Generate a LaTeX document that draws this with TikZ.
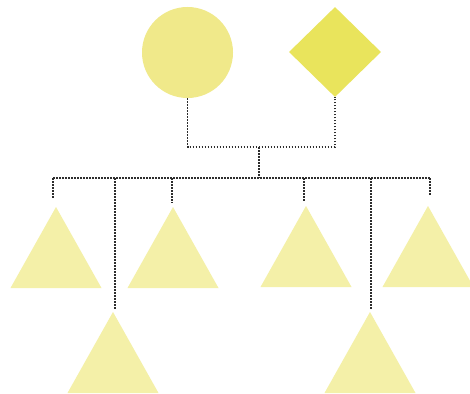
\documentclass[tikz,border=0pt]{standalone}
\usetikzlibrary{shapes.geometric}
\definecolor{roundfill}{RGB}{240,233,138}
\definecolor{kitefill}{RGB}{233,228,92}
\definecolor{leaffill}{RGB}{244,240,168}
\definecolor{dotcol}{RGB}{45,45,45}
\tikzset{
  link/.style={draw=dotcol, line width=1.8pt, dash pattern=on 1.5pt off 1.5pt},
  roundnode/.style={circle, fill=roundfill, inner sep=0pt, minimum size=91pt},
  kitenode/.style={diamond, fill=kitefill, inner sep=0pt, minimum width=92pt, minimum height=90pt},
  leaf/.style={fill=leaffill}
}
% filled triangle: apex at #2, base width 91, height 81; apex named #1
\newcommand{\leafat}[2]{%
  \coordinate (#1) at (#2);
  \fill[leaf] (#1) -- ++(-45.5,81) -- ++(91,0) -- cycle;
}
\begin{document}
\begin{tikzpicture}[x=1pt,y=-1pt]
  \useasboundingbox (0,0) rectangle (470,393);
  \clip (0,0) rectangle (470,393);
  \fill[white] (0,0) rectangle (470,393);

  % parents
  \node[roundnode] (mum) at (187.5,52.5) {};
  \node[kitenode] (dad) at (335,52) {};

  % children
  \leafat{t1}{56,207}
  \leafat{t2}{173,207}
  \leafat{t3}{306,206}
  \leafat{t4}{428,206}
  \leafat{t5}{113,312}
  \leafat{t6}{370,312}

  % junctions and drop ends
  \coordinate (j1) at (259,147);
  \coordinate (j2) at (259,178);
  \coordinate (e1) at (53,199);
  \coordinate (e2) at (172,203);
  \coordinate (e3) at (304,201);
  \coordinate (e4) at (430,195);
  \coordinate (e5) at (115,310);
  \coordinate (e6) at (371,310);

  % couple line
  \draw[link] (mum.south) |- (j1) -| (dad.south);
  \draw[link] (j1) -- (j2);
  % sibling bus
  \draw[link] (e1 |- j2) -- (e4 |- j2);
  % drops to each child
  \foreach \e in {e1,e2,e3,e4,e5,e6}
    \draw[link] (\e |- j2) -- (\e);
\end{tikzpicture}
\end{document}
